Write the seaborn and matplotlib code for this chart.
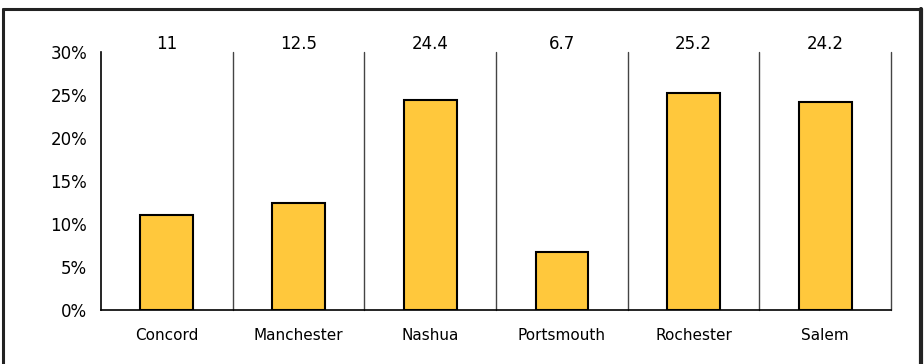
import matplotlib
matplotlib.use("Agg")
import matplotlib.pyplot as plt
import seaborn as sns
import pandas as pd
from matplotlib.lines import Line2D
from matplotlib.ticker import FuncFormatter

cities = ["Concord", "Manchester", "Nashua", "Portsmouth", "Rochester", "Salem"]
values = [11, 12.5, 24.4, 6.7, 25.2, 24.2]
value_labels = ["11", "12.5", "24.4", "6.7", "25.2", "24.2"]

sns.set_style("white")
plt.rcParams['font.family'] = ['DejaVu Sans']
plt.rcParams['text.color'] = 'black'
plt.rcParams['xtick.color'] = 'black'
plt.rcParams['ytick.color'] = 'black'
plt.rcParams['xtick.labelcolor'] = 'black'
plt.rcParams['ytick.labelcolor'] = 'black'

df = pd.DataFrame({"city": cities, "value": values})

W, H = 924, 364
fig = plt.figure(figsize=(W / 100, H / 100), dpi=100)
ax = fig.add_axes([101 / W, 1 - 310 / H, (891 - 101) / W, (310 - 52) / H])

sns.barplot(data=df, x="city", y="value", color="#FFC83C", width=0.4,
            edgecolor="black", linewidth=1.5, saturation=1, ax=ax)

ax.set_ylim(0, 30)
ax.set_xlim(-0.5, len(cities) - 0.5)
ax.set_yticks(range(0, 31, 5))
ax.yaxis.set_major_formatter(FuncFormatter(lambda v, p: f"{int(v)}%"))
ax.set_xlabel("")
ax.set_ylabel("")

# separators
for i in range(len(cities)):
    ax.axvline(i + 0.5, color="#444444", lw=1, zorder=0, clip_on=False)

ax.set_xticks(range(len(cities)))
ax.set_xticklabels(cities)
ax.tick_params(axis="x", length=0, pad=13, labelsize=11, labelcolor="black")
ax.set_xticks([i - 0.5 for i in range(len(cities) + 1)], minor=True)
ax.tick_params(axis="x", which="minor", length=5, width=1, color="black", direction="out")
ax.tick_params(axis="y", length=5, width=1, color="black", direction="out", labelsize=12, pad=5,
               labelcolor="black")

for s in ["top", "right"]:
    ax.spines[s].set_visible(False)
for s in ["left", "bottom"]:
    ax.spines[s].set_color("black")
    ax.spines[s].set_linewidth(1.2)

for i, lab in enumerate(value_labels):
    ax.text(i, 1 + 8 / 258, lab, transform=ax.get_xaxis_transform(),
            ha="center", va="center", fontsize=12, color="black")

# figure border
fig.add_artist(Line2D([3 / W, 3 / W], [0, 1 - 9 / H], transform=fig.transFigure, color="#222222", lw=2.2))
fig.add_artist(Line2D([3 / W, 921 / W], [1 - 9 / H, 1 - 9 / H], transform=fig.transFigure, color="#222222", lw=2.2))
fig.add_artist(Line2D([921 / W, 921 / W], [0, 1 - 9 / H], transform=fig.transFigure, color="#222222", lw=3))

fig.savefig("out.png", dpi=100, facecolor="white")
